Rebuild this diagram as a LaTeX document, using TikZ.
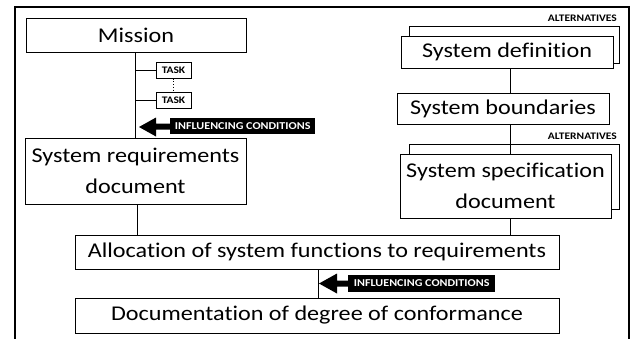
\documentclass[tikz,border=0pt]{standalone}
\usepackage{fontspec}
\setmainfont[FakeStretch=1.15,Ligatures=CommonOff]{Carlito}
\begin{document}
\begin{tikzpicture}[x=1pt,y=-1pt,
  box/.style={draw,line width=1pt,fill=white,inner sep=0pt,font=\fontsize{21}{31}\selectfont,align=center},
  taskbox/.style={draw,line width=1pt,fill=white,inner sep=0pt,minimum width=35pt,minimum height=16pt,font=\bfseries\fontsize{10}{11}\selectfont},
  altlabel/.style={anchor=base east,inner sep=0pt,font=\bfseries\fontsize{10}{11}\selectfont},
  inflbox/.style={fill=black,text=white,inner sep=0pt,anchor=west,font=\bfseries\fontsize{10.5}{12}\selectfont},
  conn/.style={line width=1pt}]
\useasboundingbox (0,0) rectangle (630,338);
% outer frame
\draw[line width=1.2pt] (15,340) -- (15,7) -- (629,7) -- (629,340);

% left column
\node[box,minimum width=220pt,minimum height=34pt] (mission) at (136,35) {Mission};
\node[box,minimum width=221pt,minimum height=66pt] (sysreq) at (135.5,171) {System requirements\\document};
\node[taskbox] (task1) at (173.5,70) {TASK};
\node[taskbox] (task2) at (173.5,100) {TASK};
\draw[conn] (135,52) -- (135,138);
\draw[conn] (135,70) -- (task1.west);
\draw[conn] (135,100) -- (task2.west);
\draw[line width=0.8pt,dotted] (task1.south) -- (task2.north);

% influencing conditions 1
\node[inflbox,minimum width=145pt,minimum height=16pt] (infl1) at (170,126) {INFLUENCING CONDITIONS};
\coordinate (tip1) at (139,127);
\fill (tip1) -- (156,117.5) -- (156,123.5) -- (infl1.west |- 0,123.5) -- (infl1.west |- 0,129.5) -- (156,129.5) -- (156,136.5) -- cycle;

% right column
\draw[line width=1pt,fill=white] (409,26) rectangle (619,63);
\node[box,minimum width=212pt,minimum height=32pt] (sysdef) at (507,52) {System definition};
\node[altlabel] (alt1) at (617,21) {ALTERNATIVES};
\node[box,minimum width=212pt,minimum height=31pt] (bound) at (503,108.5) {System boundaries};
\node[altlabel] (alt2) at (617,139) {ALTERNATIVES};
\draw[line width=1pt,fill=white] (409,144) rectangle (619,209);
\draw[conn] (510,124) -- (510,154);
\node[box,minimum width=211pt,minimum height=64pt] (spec) at (505.5,186) {System specification\\document};
\draw[conn] (510,68) -- (510,93);

% bottom
\node[box,minimum width=484pt,minimum height=34pt] (alloc) at (317,252) {Allocation of system functions to requirements};
\node[box,minimum width=484pt,minimum height=35pt] (doc) at (317,315.5) {Documentation of degree of conformance};
\draw[conn] (137,204) -- (137,235);
\draw[conn] (510,218) -- (510,235);
\draw[conn] (318,269) -- (318,298);

% influencing conditions 2
\node[inflbox,minimum width=147pt,minimum height=17pt] (infl2) at (348,283.5) {INFLUENCING CONDITIONS};
\coordinate (tip2) at (319,283.5);
\fill (tip2) -- (337,273.5) -- (337,280.5) -- (infl2.west |- 0,280.5) -- (infl2.west |- 0,286.5) -- (337,286.5) -- (337,293.5) -- cycle;
\end{tikzpicture}
\end{document}
